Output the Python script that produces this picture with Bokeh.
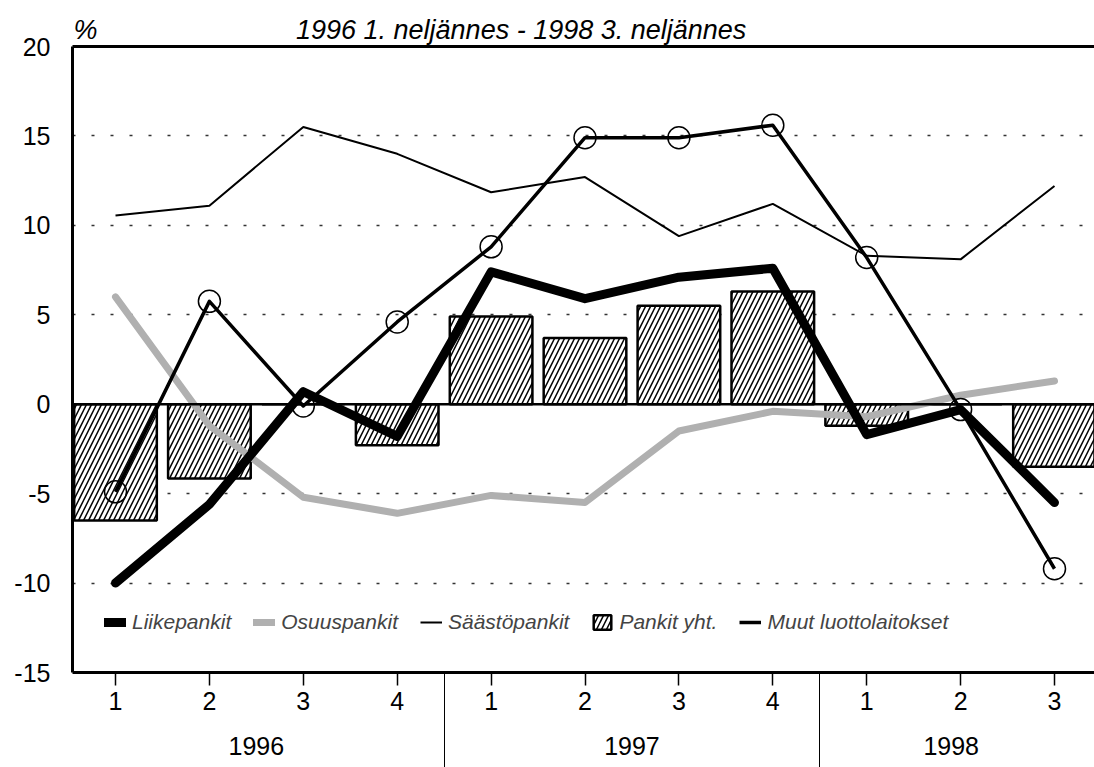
from bokeh.plotting import figure
from bokeh.models import (Range1d, FixedTicker, Span, Legend, LegendItem,
                          ColumnDataSource, LinearAxis)
from bokeh.embed import file_html
from bokeh.resources import INLINE

# ---- data ----
quarters = ["1", "2", "3", "4", "1", "2", "3", "4", "1", "2", "3"]
years = ["1996", "1997", "1998"]
year_centers = [2.5, 6.5, 9.9]
year_separators = [4.5, 8.5]
liikepankit = [-10.0, -5.6, 0.7, -1.8, 7.4, 5.9, 7.1, 7.6, -1.7, -0.3, -5.5]
osuuspankit = [6.0, -1.2, -5.2, -6.1, -5.1, -5.5, -1.5, -0.4, -0.7, 0.5, 1.3]
saastopankit = [10.55, 11.1, 15.5, 14.0, 11.85, 12.7, 9.4, 11.2, 8.3, 8.1, 12.2]
pankit_yht = [-6.5, -4.15, 0.0, -2.3, 4.9, 3.7, 5.5, 6.3, -1.2, 0.0, -3.5]
muut = [-4.9, 5.75, -0.1, 4.6, 8.8, 14.9, 14.9, 15.6, 8.2, -0.3, -9.2]
y_ticks = [-15, -10, -5, 0, 5, 10, 15, 20]
title_text = "1996 1. neljännes - 1998 3. neljännes"
unit_text = "%"

xs = list(range(1, len(quarters) + 1))
src = ColumnDataSource(dict(x=xs, liike=liikepankit, osuus=osuuspankit,
                            saasto=saastopankit, yht=pankit_yht, muut=muut))

FONT = "Liberation Sans"

p = figure(width=1094, height=767, output_backend="svg", toolbar_location=None,
           x_range=Range1d(0.542, 11.426), y_range=Range1d(-15, 20),
           min_border_left=72, min_border_right=0, min_border_top=46,
           min_border_bottom=95)
p.outline_line_alpha = 0
p.background_fill_color = "white"
p.border_fill_color = "white"

# grid
p.xgrid.grid_line_alpha = 0
p.ygrid.ticker = FixedTicker(ticks=[-10, -5, 5, 10, 15])
p.ygrid.grid_line_color = "#333333"
p.ygrid.grid_line_width = 1.5
p.ygrid.grid_line_dash = "3 16"

# y axis
p.yaxis.ticker = FixedTicker(ticks=y_ticks)
p.yaxis.major_label_overrides = {t: str(t) for t in y_ticks}
p.yaxis.major_tick_out = 0
p.yaxis.major_tick_in = 0
p.yaxis.minor_tick_line_alpha = 0
p.yaxis.axis_line_width = 3
p.yaxis.major_label_standoff = 22
p.yaxis.major_label_text_font = FONT
p.yaxis.major_label_text_font_size = "25px"
p.yaxis.major_label_text_color = "black"

# x axis (quarters); minor ticks = upper part of the year separators
p.xaxis.ticker = FixedTicker(ticks=xs, minor_ticks=year_separators)
p.xaxis.major_label_overrides = {x: q for x, q in zip(xs, quarters)}
p.xaxis.major_tick_out = 13
p.xaxis.major_tick_in = 0
p.xaxis.major_tick_line_width = 1.5
p.xaxis.minor_tick_out = 45
p.xaxis.minor_tick_in = 0
p.xaxis.minor_tick_line_width = 1
p.xaxis.minor_tick_line_color = "black"
p.xaxis.axis_line_width = 3
p.xaxis.major_label_standoff = -26
p.xaxis.major_label_text_font = FONT
p.xaxis.major_label_text_font_size = "25px"
p.xaxis.major_label_text_color = "black"

# second x axis (years) with lower part of the separators
yax = LinearAxis(ticker=FixedTicker(ticks=year_centers, minor_ticks=year_separators))
yax.major_label_overrides = {c: y for c, y in zip(year_centers, years)}
yax.axis_line_alpha = 0
yax.major_tick_out = 0
yax.major_tick_in = 0
yax.major_tick_line_alpha = 0
yax.minor_tick_out = 62
yax.minor_tick_in = 0
yax.minor_tick_line_width = 1
yax.minor_tick_line_color = "black"
yax.major_label_standoff = -38
yax.major_label_text_font = FONT
yax.major_label_text_font_size = "25px"
yax.major_label_text_color = "black"
p.add_layout(yax, "below")

# top axis: frame top line, unit label and title
tax = LinearAxis(ticker=FixedTicker(ticks=[0.68, 5.32]))
tax.major_label_overrides = {0.68: unit_text, 5.32: title_text}
tax.axis_line_width = 3
tax.axis_line_color = "black"
tax.major_tick_out = 0
tax.major_tick_in = 0
tax.minor_tick_line_alpha = 0
tax.major_label_standoff = 2
tax.major_label_text_font = FONT
tax.major_label_text_font_size = "27px"
tax.major_label_text_font_style = "italic"
tax.major_label_text_color = "black"
p.add_layout(tax, "above")

# zero line
p.add_layout(Span(location=0, dimension="width", line_color="black", line_width=2.5))

# bars
bars = p.vbar(x="x", top="yht", bottom=0, width=0.88, source=src,
              fill_color="white", line_color="black", line_width=2.5,
              hatch_pattern="/", hatch_color="black", hatch_scale=10, hatch_weight=1.5)
# lines
osu = p.line("x", "osuus", source=src, line_color="#b0b0b0", line_width=7,
             line_join="round", line_cap="round")
saa = p.line("x", "saasto", source=src, line_color="black", line_width=2)
muu = p.line("x", "muut", source=src, line_color="black", line_width=3.5,
             line_join="round")
p.scatter("x", "muut", source=src, marker="circle", size=22, fill_alpha=0,
          line_color="black", line_width=1.5)
lii = p.line("x", "liike", source=src, line_color="black", line_width=9,
             line_join="round", line_cap="round")

legend = Legend(items=[
    LegendItem(label="Liikepankit", renderers=[lii]),
    LegendItem(label="Osuuspankit", renderers=[osu]),
    LegendItem(label="Säästöpankit", renderers=[saa]),
    LegendItem(label="Pankit yht.", renderers=[bars]),
    LegendItem(label="Muut luottolaitokset", renderers=[muu]),
], location=(32, 38), orientation="horizontal")
legend.glyph_width = 22
legend.glyph_height = 18
legend.label_standoff = 6
legend.spacing = 22
legend.padding = 0
legend.margin = 0
legend.label_text_font = FONT
legend.label_text_font_size = "21px"
legend.label_text_font_style = "italic"
legend.background_fill_alpha = 0
legend.border_line_alpha = 0
p.add_layout(legend)

open("out.html", "w").write(file_html(p, INLINE))
